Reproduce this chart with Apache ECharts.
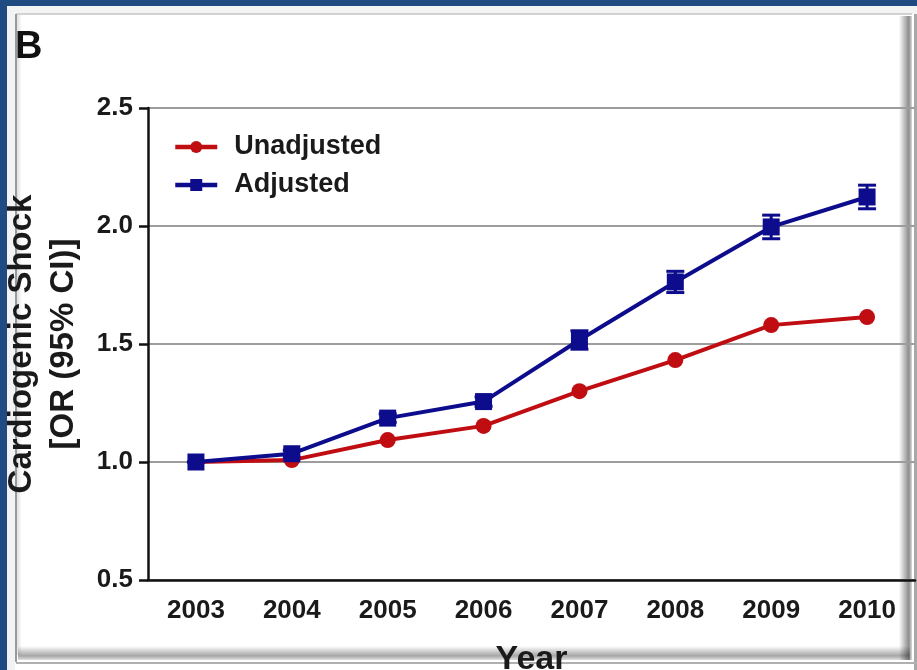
<!DOCTYPE html>
<html>
<head>
<meta charset="utf-8">
<script src="https://cdn.jsdelivr.net/npm/echarts@6/dist/echarts.min.js"></script>
<style>
  html, body { margin: 0; padding: 0; background: #ffffff; }
  #chart { width: 917px; height: 670px; }
</style>
</head>
<body>
<div id="chart"></div>
<script>
// Odds ratio of cardiogenic shock by year, relative to 2003
const years = ['2003', '2004', '2005', '2006', '2007', '2008', '2009', '2010'];
const unadjusted = [1.00, 1.008, 1.093, 1.153, 1.30, 1.432, 1.58, 1.614];
const adjusted = [1.00, 1.035, 1.186, 1.256, 1.517, 1.763, 1.996, 2.123];
// 95% confidence interval of the adjusted odds ratio
const adjustedLow = [1.00, 1.02, 1.168, 1.236, 1.478, 1.718, 1.946, 2.073];
const adjustedHigh = [1.00, 1.05, 1.204, 1.276, 1.556, 1.808, 2.046, 2.173];
const yTicks = [0.5, 1.0, 1.5, 2.0, 2.5];

const FONT = '"Liberation Sans", Arial, sans-serif';
const RED = '#bf0d12';
const BLUE = '#0c0c8c';

const chart = echarts.init(document.getElementById('chart'), null, { renderer: 'canvas' });

function errorBar(params, api) {
  const i = api.value(0);
  const top = api.coord([i, api.value(2)]);
  const bot = api.coord([i, api.value(1)]);
  const half = 9;
  const style = { stroke: BLUE, lineWidth: 3 };
  return {
    type: 'group',
    children: [
      { type: 'line', shape: { x1: top[0], y1: top[1], x2: bot[0], y2: bot[1] }, style },
      { type: 'line', shape: { x1: top[0] - half, y1: top[1], x2: top[0] + half, y2: top[1] }, style },
      { type: 'line', shape: { x1: bot[0] - half, y1: bot[1], x2: bot[0] + half, y2: bot[1] }, style }
    ]
  };
}

// Slide-style frame around the panel
const frame = [
  { type: 'rect', z: -10, shape: { x: 0, y: 0, width: 917, height: 6 }, style: { fill: '#1f4b82' } },
  { type: 'rect', z: -10, shape: { x: 0, y: 0, width: 7, height: 670 }, style: { fill: '#1f4b82' } },
  { type: 'rect', z: -9, shape: { x: 7, y: 6, width: 910, height: 8 }, style: { fill: '#f3f3f3' } },
  { type: 'rect', z: -9, shape: { x: 7, y: 6, width: 8, height: 664 }, style: { fill: '#f3f3f3' } },
  { type: 'line', z: -9, shape: { x1: 16, y1: 14, x2: 912, y2: 14 }, style: { stroke: '#d2d2d2', lineWidth: 2 } },
  { type: 'line', z: -9, shape: { x1: 16, y1: 14, x2: 16, y2: 662 }, style: { stroke: '#9a9a9a', lineWidth: 2 } },
  {
    type: 'rect', z: -9, shape: { x: 17, y: 15, width: 5, height: 640 },
    style: { fill: new echarts.graphic.LinearGradient(0, 0, 1, 0, [
      { offset: 0, color: 'rgba(0,0,0,0.12)' }, { offset: 1, color: 'rgba(0,0,0,0)' }]) }
  },
  {
    type: 'rect', z: -9, shape: { x: 899, y: 16, width: 13, height: 644 },
    style: { fill: new echarts.graphic.LinearGradient(0, 0, 1, 0, [
      { offset: 0, color: 'rgba(0,0,0,0)' }, { offset: 0.75, color: 'rgba(0,0,0,0.45)' },
      { offset: 1, color: 'rgba(0,0,0,0.15)' }]) }
  },
  { type: 'line', z: -9, shape: { x1: 915.5, y1: 14, x2: 915.5, y2: 670 }, style: { stroke: '#a8a8a8', lineWidth: 3 } },
  {
    type: 'rect', z: -9, shape: { x: 18, y: 646, width: 892, height: 14 },
    style: { fill: new echarts.graphic.LinearGradient(0, 0, 0, 1, [
      { offset: 0, color: 'rgba(0,0,0,0)' }, { offset: 0.7, color: 'rgba(0,0,0,0.35)' },
      { offset: 1, color: 'rgba(0,0,0,0.12)' }]) }
  },
  { type: 'line', z: -9, shape: { x1: 16, y1: 663, x2: 917, y2: 663 }, style: { stroke: '#b0b0b0', lineWidth: 2 } }
];

const option = {
  backgroundColor: '#ffffff',
  animation: false,
  graphic: { elements: frame.concat([
    { type: 'text', z: 10, left: 15, top: 29,
      style: { text: 'B', font: 'bold 38px ' + FONT, fill: '#111' } }
  ]) },
  grid: { left: 148, right: 2, top: 108, bottom: 90, containLabel: false, outerBoundsMode: 'none' },
  legend: {
    data: ['Unadjusted', 'Adjusted'],
    orient: 'vertical',
    left: 168,
    top: 128,
    itemWidth: 42,
    itemHeight: 15,
    itemGap: 10,
    lineStyle: { width: 4.5 },
    textStyle: {
      fontFamily: FONT, fontWeight: 'bold', fontSize: 27, color: '#1a1a1a',
      lineHeight: 28, padding: [0, 0, 0, 12]
    }
  },
  xAxis: {
    type: 'category',
    data: years,
    boundaryGap: true,
    name: 'Year',
    nameLocation: 'middle',
    nameGap: 63,
    nameTextStyle: { fontFamily: FONT, fontWeight: 'bold', fontSize: 34, color: '#1a1a1a' },
    axisLine: { lineStyle: { color: '#111', width: 2.5 } },
    axisTick: { alignWithLabel: true, length: 9, lineStyle: { color: '#111', width: 2.5 } },
    axisLabel: { margin: 18, fontFamily: FONT, fontWeight: 'bold', fontSize: 26, color: '#1a1a1a' },
    splitLine: { show: false }
  },
  yAxis: {
    type: 'value',
    min: yTicks[0],
    max: yTicks[yTicks.length - 1],
    interval: 0.5,
    name: 'Cardiogenic Shock\n[OR (95% CI)]',
    nameLocation: 'middle',
    nameRotate: 90,
    nameGap: 63,
    nameTextStyle: { fontFamily: FONT, fontWeight: 'bold', fontSize: 33, lineHeight: 42, color: '#1a1a1a' },
    axisLine: { show: true, lineStyle: { color: '#111', width: 2.5 } },
    axisTick: { show: true, length: 9, lineStyle: { color: '#111', width: 2.5 } },
    axisLabel: {
      margin: 15, fontFamily: FONT, fontWeight: 'bold', fontSize: 26, color: '#1a1a1a',
      formatter: v => v.toFixed(1)
    },
    splitLine: { show: true, lineStyle: { color: '#9d9d9d', width: 2 } }
  },
  series: [
    {
      name: 'Adjusted 95% CI',
      type: 'custom',
      z: 1,
      renderItem: errorBar,
      data: years.map((y, i) => [i, adjustedLow[i], adjustedHigh[i]])
    },
    {
      name: 'Unadjusted',
      type: 'line',
      z: 2,
      data: unadjusted,
      symbol: 'circle',
      symbolSize: 16,
      color: RED,
      lineStyle: { color: RED, width: 4 },
      itemStyle: { color: RED }
    },
    {
      name: 'Adjusted',
      type: 'line',
      z: 3,
      data: adjusted,
      symbol: 'rect',
      symbolSize: 17,
      color: BLUE,
      lineStyle: { color: BLUE, width: 4 },
      itemStyle: { color: BLUE }
    }
  ]
};

chart.setOption(option);
</script>
</body>
</html>
